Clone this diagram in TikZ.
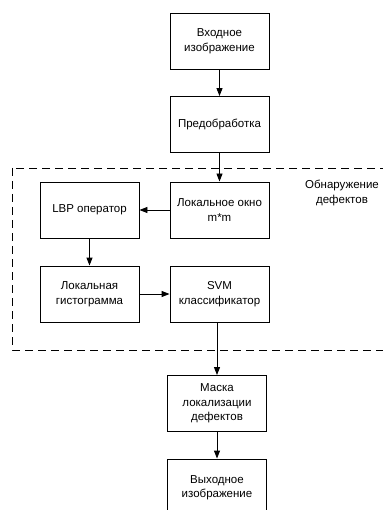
\documentclass[tikz,border=0pt]{standalone}
\usepackage{fontspec}
\setmainfont{Liberation Sans}
\usetikzlibrary{arrows.meta}
\begin{document}
\begin{tikzpicture}[x=1pt,y=-1pt,
  box/.style={draw,line width=0.9pt,minimum width=99pt,minimum height=56pt,inner sep=0pt,
    align=center,font=\fontsize{11.5}{14.5}\selectfont},
  conn/.style={line width=0.9pt,-{Triangle[length=8pt,width=6pt]}},
  lbl/.style={align=center,font=\fontsize{11.5}{14.5}\selectfont}]
\useasboundingbox (0,0) rectangle (382,510);
\draw[line width=0.9pt,dash pattern=on 8pt off 5pt] (12,168) rectangle (395,350);
\node[box] (in) at (219.5,41) {Входное\\изображение};
\node[box] (pre) at (219.5,124.5) {Предобработка};
\node[box] (win) at (219.5,210) {Локальное окно\\m*m};
\node[box] (lbp) at (89.5,210) {LBP оператор};
\node[box] (hist) at (89.5,294) {Локальная\\гистограмма};
\node[box] (svm) at (219.5,294) {SVM\\классификатор};
\node[box] (mask) at (217,403.5) {Маска\\локализации\\дефектов};
\node[box,minimum height=57pt] (out) at (217,487.5) {Выходное\\изображение};
\node[lbl] (det) at (342,193) {Обнаружение\\дефектов};
\draw[conn] (in) -- (pre);
\draw[conn] (pre) -- (win);
\draw[conn] (win) -- (lbp);
\draw[conn] (lbp) -- (hist);
\draw[conn] (hist) -- (svm);
\draw[conn] (svm.south -| mask.north) -- (mask.north);
\draw[conn] (mask) -- (out);
\end{tikzpicture}
\end{document}
